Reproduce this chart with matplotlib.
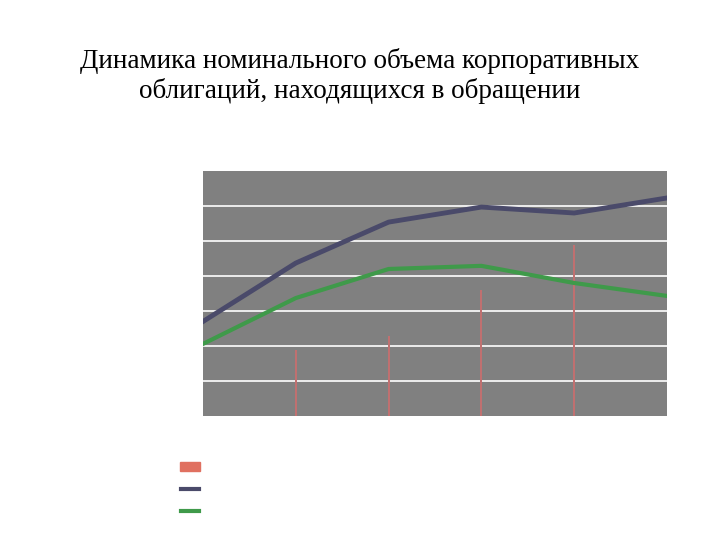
import matplotlib
matplotlib.use("Agg")
import matplotlib.pyplot as plt

x = [0, 1, 2, 3, 4, 5]
bars = [0, 1.9, 2.3, 3.6, 4.9, 0]
blue = [2.7, 4.37, 5.54, 5.97, 5.8, 6.23]
green = [2.06, 3.37, 4.2, 4.29, 3.8, 3.43]

fig = plt.figure(figsize=(7.2, 5.4), dpi=100)
fig.text(0.5, 1-76/540, "Динамика номинального объема корпоративных\nоблигаций, находящихся в обращении",
         ha="center", va="center", fontsize=19.5, family="Liberation Serif", linespacing=1.15)
ax = fig.add_axes([203/720, 1-416/540, 464/720, 245/540])
ax.set_facecolor("#808080")
ax.set_xlim(0, 5)
ax.set_ylim(0, 7)
for g in range(1, 7):
    ax.axhline(g, color="white", lw=1.2, zorder=1)
ax.bar(x, bars, width=0.02, color="#c07070", zorder=2)
ax.plot(x, blue, color="#4a4a6a", lw=3.5, zorder=3)
ax.plot(x, green, color="#3f9a4a", lw=3, zorder=3)
for s in ax.spines.values():
    s.set_visible(False)
ax.set_xticks([]); ax.set_yticks([])

fig.patches.append(plt.Rectangle((180/720, 1-471/540), 20/720, 9/540, color="#e07060", transform=fig.transFigure))
fig.lines.append(plt.Line2D([181/720, 199/720], [1-489/540]*2, color="#4a4a6a", lw=3, transform=fig.transFigure))
fig.lines.append(plt.Line2D([181/720, 199/720], [1-511/540]*2, color="#3f9a4a", lw=3, transform=fig.transFigure))
fig.savefig("out.png")
